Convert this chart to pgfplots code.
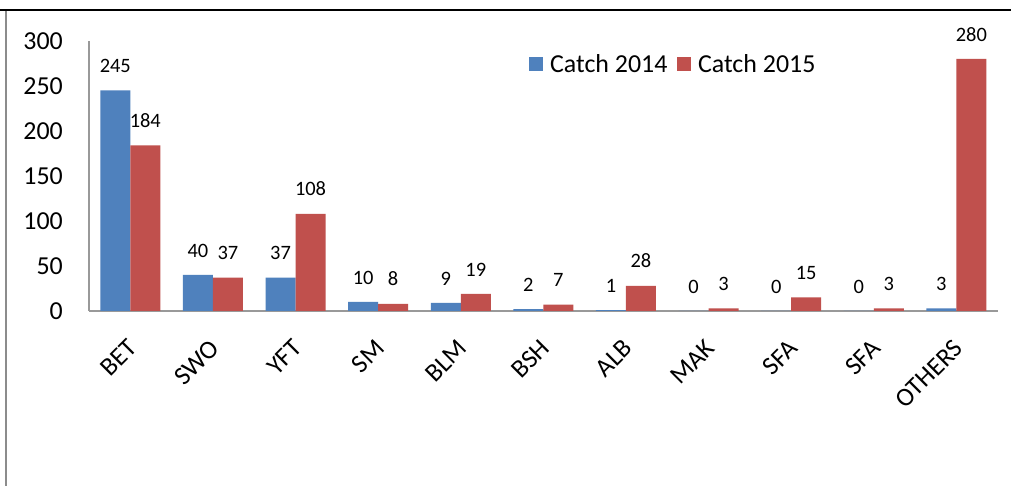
\documentclass[border=0pt]{standalone}
\usepackage{fontspec}
\setmainfont{Carlito}
\usepackage{pgfplots}
\pgfplotsset{compat=1.18}
\definecolor{b14}{HTML}{4F81BD}
\definecolor{r15}{HTML}{C0504D}
\begin{document}
\begin{tikzpicture}[x=1bp,y=1bp]
\useasboundingbox (0,0) rectangle (1011,486);
\fill[white] (0,0) rectangle (1011,486);
\draw[black, line width=2bp] (0,476) -- (1011,476);
\draw[black!45, line width=2bp] (6,475) -- (6,0);
\begin{axis}[
  at={(89bp,175bp)}, anchor=south west,
  scale only axis, width=908.7bp, height=270bp,
  ybar=0pt, bar width=30bp,
  xmin=-0.5, xmax=10.5, ymin=0, ymax=300,
  axis lines=left,
  axis line style={-, draw=black!40, line width=1.3bp},
  major tick length=0pt,
  xtick={0,...,10},
  xticklabels={BET,SWO,YFT,SM,BLM,BSH,ALB,MAK,SFA,SFA,OTHERS},
  ytick={0,50,...,300},
  /pgf/number format/assume math mode=true,
  tick label style={font=\fontsize{26}{31}\selectfont},
  yticklabel style={inner sep=0pt, anchor=east, xshift=-26bp},
  xticklabel style={xshift=-4bp, yshift=-27bp, rotate=45, anchor=north east, inner sep=0pt},
  nodes near coords,
  every node near coord/.append style={font=\fontsize{20.5}{24}\selectfont, inner sep=0pt, yshift=17.5bp, text=black},
  legend columns=2,
  legend cell align=left,
  legend style={at={(0.4845,0.913)}, anchor=west, draw=none, fill=none, inner sep=0pt,
    font=\fontsize{26}{31}\selectfont,
    nodes={inner sep=0pt},
    /tikz/every odd column/.append style={column sep=6.7bp},
    /tikz/every even column/.append style={column sep=10bp}},
]
\addplot[fill=b14, draw=none, legend image code/.code={\fill[b14] (0bp,-7bp) rectangle (14bp,7bp);}]
  coordinates {(0,245) (1,40) (2,37) (3,10) (4,9) (5,2) (6,1) (7,0) (8,0) (9,0) (10,3)};
\addplot[fill=r15, draw=none, legend image code/.code={\fill[r15] (0bp,-7bp) rectangle (14bp,7bp);}]
  coordinates {(0,184) (1,37) (2,108) (3,8) (4,19) (5,7) (6,28) (7,3) (8,15) (9,3) (10,280)};
\legend{Catch 2014, Catch 2015}
\end{axis}
\end{tikzpicture}
\end{document}
